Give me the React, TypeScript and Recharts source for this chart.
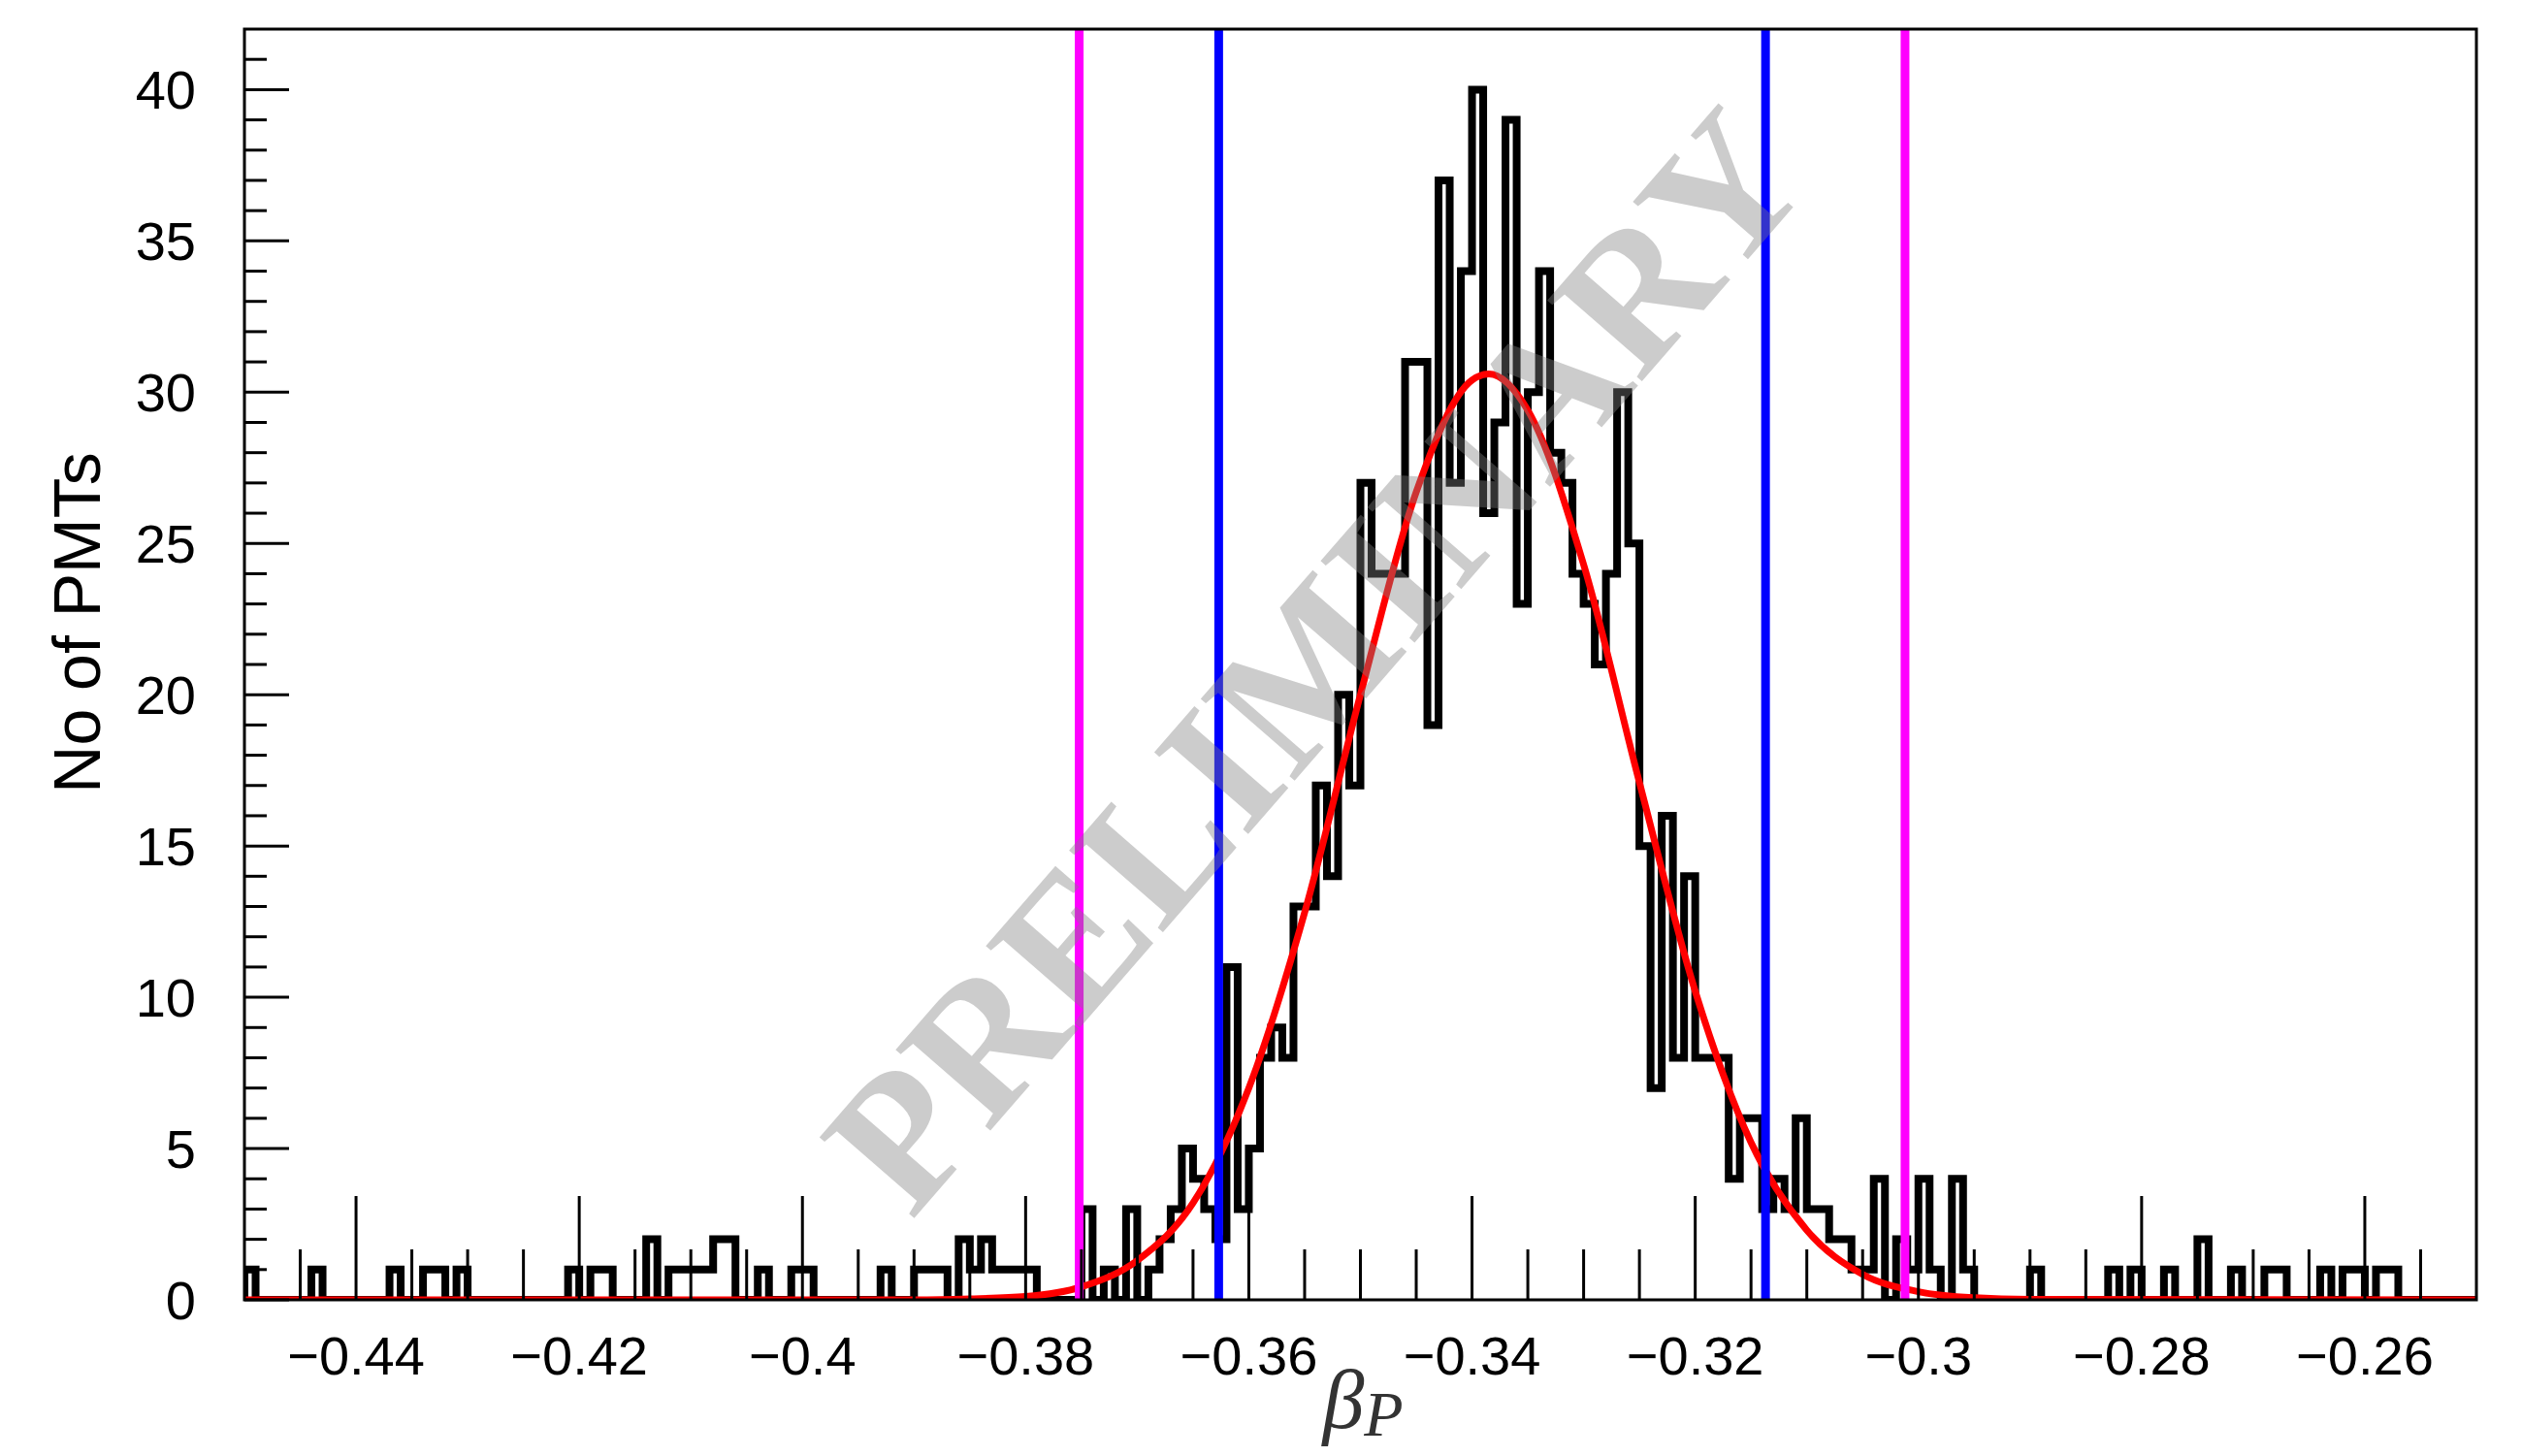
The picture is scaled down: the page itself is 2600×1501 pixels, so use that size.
import React from "react";
import { ComposedChart, Line, XAxis, YAxis, ReferenceLine } from "recharts";

// histogram: 200 bins of 0.001 from -0.45 to -0.25
const binStart = -0.45;
const binWidth = 0.001;
const counts = [
  1, 0, 0, 0, 0, 0, 1, 0, 0, 0,
  0, 0, 0, 1, 0, 0, 1, 1, 0, 1,
  0, 0, 0, 0, 0, 0, 0, 0, 0, 1,
  0, 1, 1, 0, 0, 0, 2, 0, 1, 1,
  1, 1, 2, 2, 0, 0, 1, 0, 0, 1,
  1, 0, 0, 0, 0, 0, 0, 1, 0, 0,
  1, 1, 1, 0, 2, 1, 2, 1, 1, 1,
  1, 0, 0, 0, 0, 3, 0, 1, 0, 3,
  0, 1, 2, 3, 5, 4, 3, 2, 11, 3,
  5, 8, 9, 8, 13, 13, 17, 14, 20, 17,
  27, 24, 24, 24, 31, 31, 19, 37, 27, 34,
  40, 26, 29, 39, 23, 30, 34, 28, 27, 24,
  23, 21, 24, 30, 25, 15, 7, 16, 8, 14,
  8, 8, 8, 4, 6, 6, 3, 4, 3, 6,
  3, 3, 2, 2, 1, 1, 4, 0, 2, 1,
  4, 1, 0, 4, 1, 0, 0, 0, 0, 0,
  1, 0, 0, 0, 0, 0, 0, 1, 0, 1,
  0, 0, 1, 0, 0, 2, 0, 0, 1, 0,
  0, 1, 1, 0, 0, 0, 1, 0, 1, 1,
  0, 1, 1, 0, 0, 0, 0, 0, 0, 0,
];

// gaussian fit curve
const fitX = [-0.45, -0.39, -0.385, -0.38, -0.375, -0.37, -0.365, -0.36, -0.355, -0.35, -0.345, -0.34, -0.3385, -0.335, -0.33, -0.325, -0.32, -0.315, -0.31, -0.305, -0.3, -0.295, -0.29, -0.25];
const fitY = [0, 0, 0.03, 0.11, 0.43, 1.3, 3.2, 7.0, 12.8, 20.0, 26.7, 30.4, 30.6, 29.4, 24.3, 17.1, 10.2, 5.2, 2.3, 0.84, 0.27, 0.07, 0.02, 0];

// vertical markers
const blueLines = [-0.3627, -0.3137];
const magentaLines = [-0.3752, -0.3012];

const xLabelTicks = [-0.44, -0.42, -0.4, -0.38, -0.36, -0.34, -0.32, -0.3, -0.28, -0.26];
const yLabelTicks = [0, 5, 10, 15, 20, 25, 30, 35, 40];

const xTicks: number[] = [];
for (let k = 1; k < 40; k++) xTicks.push(Math.round((-0.45 + k * 0.005) * 1000) / 1000);
const yTicks: number[] = [];
for (let k = 0; k < 42; k++) yTicks.push(k);

const histData = [{ x: binStart, h: 0 }];
counts.forEach((c, i) => histData.push({ x: binStart + i * binWidth, h: c }));
histData.push({ x: binStart + counts.length * binWidth, h: counts[counts.length - 1] });

const fitData = fitX.map((x, i) => ({ x, y: fitY[i] }));

const SANS = "'Liberation Sans', Arial, Helvetica, sans-serif";
const SERIF = "'Liberation Serif', 'Times New Roman', serif";

const isMajorX = (v: number) => xLabelTicks.some((t) => Math.abs(t - v) < 1e-9);
const fmtX = (v: number) => "\u2212" + String(Math.abs(v));

function XTick(props: any) {
  const { x, y, payload } = props;
  const v = payload.value as number;
  const major = isMajorX(v);
  return (
    <g>
      <line x1={x} y1={y} x2={x} y2={y - (major ? 107 : 52)} stroke="#000" strokeWidth={3} />
      {major && (
        <text x={x} y={y + 77} textAnchor="middle" fontSize={56} fontFamily={SANS} fill="#000">
          {fmtX(v)}
        </text>
      )}
    </g>
  );
}

function YTick(props: any) {
  const { x, y, payload } = props;
  const v = payload.value as number;
  const major = yLabelTicks.includes(v);
  return (
    <g>
      <line x1={x} y1={y} x2={x + (major ? 46 : 23)} y2={y} stroke="#000" strokeWidth={3} />
      {major && (
        <text x={x - 50} y={y} textAnchor="end" dominantBaseline="central" fontSize={56} fontFamily={SANS} fill="#000">
          {v}
        </text>
      )}
    </g>
  );
}

export default function App() {
  return (
    <div style={{ position: "absolute", left: 0, top: 0, width: 2600, height: 1501, background: "#fff" }}>
      <ComposedChart width={2600} height={1501} margin={{ top: 30, right: 47, bottom: 61, left: 52 }}>
        <XAxis
          dataKey="x"
          type="number"
          domain={[-0.45, -0.25]}
          allowDataOverflow
          ticks={xTicks}
          interval={0}
          tickSize={0}
          tickMargin={0}
          axisLine={false}
          tick={XTick}
          height={100}
        />
        <YAxis
          type="number"
          domain={[0, 42]}
          allowDataOverflow
          ticks={yTicks}
          interval={0}
          tickSize={0}
          tickMargin={0}
          axisLine={false}
          tick={YTick}
          width={200}
        />
        <Line
          data={histData}
          dataKey="h"
          type="stepAfter"
          stroke="#000"
          strokeWidth={8}
          strokeLinejoin="miter"
          dot={false}
          activeDot={false}
          isAnimationActive={false}
        />
        <Line
          data={fitData}
          dataKey="y"
          type="monotone"
          stroke="#ff0000"
          strokeWidth={7}
          dot={false}
          activeDot={false}
          isAnimationActive={false}
        />
        {magentaLines.map((v) => (
          <ReferenceLine key={"m" + v} x={v} stroke="#ff00ff" strokeWidth={9} />
        ))}
        {blueLines.map((v) => (
          <ReferenceLine key={"b" + v} x={v} stroke="#0000ff" strokeWidth={9} />
        ))}
      </ComposedChart>
      <svg width={2600} height={1501} style={{ position: "absolute", left: 0, top: 0, pointerEvents: "none" }}>
        <rect x={252} y={30} width={2301} height={1310} fill="none" stroke="#000" strokeWidth={3} />
        <text
          transform="translate(103,642) rotate(-90)"
          textAnchor="middle"
          fontSize={68}
          fontFamily={SANS}
          fill="#000"
        >
          No of PMTs
        </text>
        <text x={1405} y={1472} textAnchor="middle" fontFamily={SERIF} fontStyle="italic" fontSize={86} fill="#333">
          β<tspan fontSize={66} dy={8}>P</tspan>
        </text>
        <text
          transform="translate(1355,680) rotate(-49)"
          textAnchor="middle"
          dominantBaseline="central"
          fontFamily={SERIF}
          fontWeight="bold"
          fontSize={196}
          fill="#808080"
          fillOpacity={0.4}
        >
          PRELIMINARY
        </text>
      </svg>
    </div>
  );
}
